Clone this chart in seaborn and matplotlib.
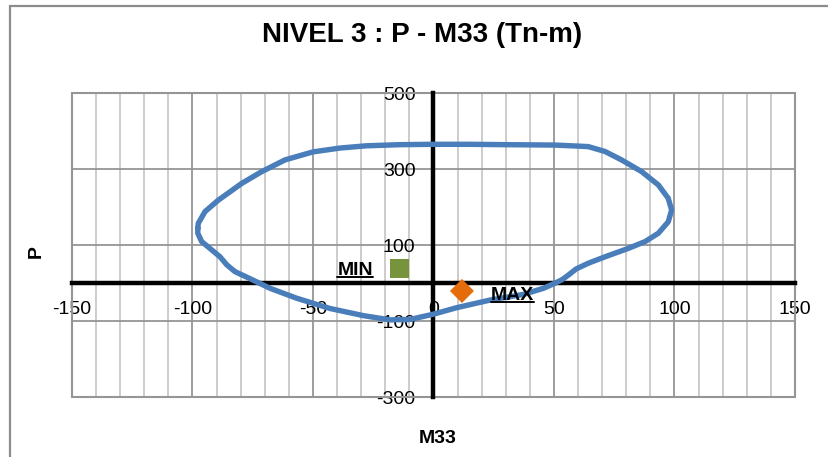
import matplotlib
matplotlib.use("Agg")
import matplotlib.pyplot as plt
from matplotlib.lines import Line2D
from matplotlib.patches import Rectangle
import numpy as np
import pandas as pd
import seaborn as sns

# Interaction diagram P - M33 (closed loop, clockwise from the left edge)
m33 = [-97.8, -97.6, -94.8, -89.3, -79.6, -71.3, -61.6, -50, -39, -28, -14,
       0, 15, 30, 50.4, 64.2, 71.2, 78, 86.4, 93.3, 97.4, 98.8, 97.4, 93.3,
       87.8, 80.8, 71.2, 64.2, 59.2, 56.2, 53.4, 50.6, 45.6, 37.3, 23.4, 9.6,
       0, -9.8, -18, -29, -43, -56.8, -67.8, -76, -82.4, -85.8, -88.6, -92,
       -96.2, -97.8, -97.8]
p = [144, 157, 188, 218, 262, 293, 324, 345, 355, 361, 364,
     365, 365, 364, 363, 359, 346, 324, 293, 258, 223, 192, 161, 131,
     109, 91, 69, 52, 37, 22, 9, 0, -14, -30, -45, -65,
     -82, -96, -97, -86, -67, -40, -14, 11, 30, 48, 69, 87,
     109, 131, 144]

# Design loads
min_m33, min_p = -14.1, 38.0
max_m33, max_p = 11.8, -21.0

x_ticks = [-150, -100, -50, 0, 50, 100, 150]
y_ticks = [-300, -100, 100, 300, 500]

sns.set_theme(style="white")
plt.rcParams["font.family"] = ["Liberation Sans", "DejaVu Sans"]
plt.rcParams["text.color"] = "black"
plt.rcParams["axes.labelcolor"] = "black"

fig = plt.figure(figsize=(8.29, 4.57), dpi=100)
ax = fig.add_axes([72 / 829, 1 - 397 / 457, 723 / 829, 304 / 457])

ax.set_xlim(-150, 150)
ax.set_ylim(-300, 500)

# grid
ax.set_xticks(x_ticks)
ax.set_xticks(np.arange(-150, 151, 10), minor=True)
ax.set_yticks(y_ticks)
ax.grid(which="minor", axis="x", color="#C8C8C8", lw=1.3, zorder=0)
ax.grid(which="major", axis="x", color="#959595", lw=1.3, zorder=0)
ax.grid(which="major", axis="y", color="#959595", lw=1.3, zorder=0)
ax.set_axisbelow(True)

# axes crossing at the origin
for side in ("top", "right"):
    ax.spines[side].set_visible(False)
ax.spines["left"].set_position(("data", 0))
ax.spines["bottom"].set_position(("data", 0))
for side in ("left", "bottom"):
    ax.spines[side].set_color("black")
    ax.spines[side].set_linewidth(3.2)
    ax.spines[side].set_zorder(2)
ax.tick_params(axis="both", which="both", length=0, labelsize=14, colors="black")
ax.tick_params(axis="x", pad=13)
ax.tick_params(axis="y", pad=13)
ax.set_xticklabels([str(v) for v in x_ticks])
ax.set_yticklabels([str(v) for v in y_ticks])

# plot-area outline on the far sides
ax.add_patch(Rectangle((0, 0), 1, 1, transform=ax.transAxes, fill=False,
                       edgecolor="#959595", lw=1.5, zorder=1, clip_on=False))

curve = pd.DataFrame({"M33": m33, "P": p})
sns.lineplot(data=curve, x="M33", y="P", sort=False, estimator=None,
             color="#4A7EBB", lw=3.9, ax=ax, zorder=3,
             solid_joinstyle="round", solid_capstyle="round")

sns.scatterplot(x=[min_m33], y=[min_p], marker="s", s=190, color="#77933C",
                edgecolor="none", ax=ax, zorder=4)
sns.scatterplot(x=[max_m33], y=[max_p], marker="D", s=150, color="#E46C0A",
                edgecolor="none", ax=ax, zorder=4)

t_min = ax.annotate("MIN", (min_m33, min_p), xytext=(-32, -4.7),
                    textcoords="offset points", ha="center", va="baseline",
                    fontsize=14, fontweight="bold", zorder=5)
t_max = ax.annotate("MAX", (max_m33, max_p), xytext=(36.4, -6.5),
                    textcoords="offset points", ha="center", va="baseline",
                    fontsize=14, fontweight="bold", zorder=5)

ax.set_title("NIVEL 3 : P - M33 (Tn-m)", fontsize=20, fontweight="bold",
             color="black", x=(422 - 72) / 723, y=(397 - 43) / 304, va="center")
ax.set_xlabel("M33", fontsize=14, fontweight="bold")
ax.set_ylabel("P", fontsize=14, fontweight="bold")
ax.xaxis.set_label_coords((438 - 72) / 723, (397 - 430) / 304)
ax.yaxis.set_label_coords((45 - 72) / 723, (397 - 252) / 304)
ax.xaxis.label.set_va("top")

# chart frame (upper-left edges)
fig.patches.append(Rectangle((10 / 829, -0.2), 1.2, 1.2 - 5.5 / 457,
                             transform=fig.transFigure, fill=False,
                             edgecolor="#8C8C8C", lw=1.6, figure=fig))

# underline the MIN / MAX labels
fig.canvas.draw()
renderer = fig.canvas.get_renderer()
W, H = fig.bbox.width, fig.bbox.height
for t in (t_min, t_max):
    bb = t.get_window_extent(renderer)
    base = bb.y0 + 2.0
    fig.add_artist(Line2D([bb.x0 / W, bb.x1 / W], [base / H, base / H],
                          transform=fig.transFigure, color="black", lw=1.4,
                          zorder=6))

fig.savefig("out.png", dpi=100)
